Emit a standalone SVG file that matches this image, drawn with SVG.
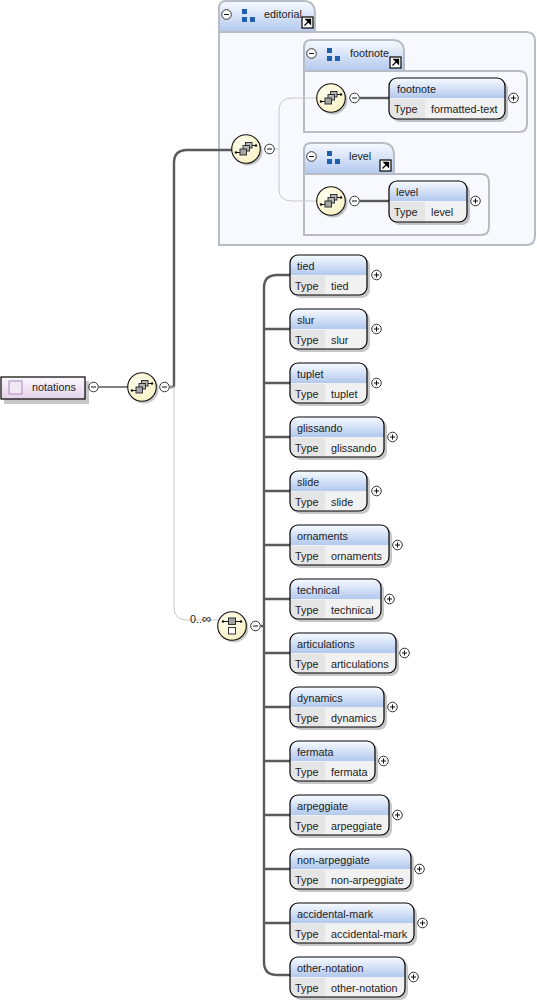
<svg xmlns="http://www.w3.org/2000/svg" xmlns:xlink="http://www.w3.org/1999/xlink" width="537" height="1003" viewBox="0 0 537 1003">
<style>
text{font-family:"Liberation Sans",Arial,sans-serif;font-size:10.8px;fill:#222}
.thick{fill:none;stroke:#5a5a5a;stroke-width:2.4}
.thin{fill:none;stroke:#c8c8c8;stroke-width:1}
.grp{fill:#f7f9fe;stroke:#b8bcc4;stroke-width:2}
.shadow{fill:#000;opacity:.22}
.box{fill:none;stroke:#000;stroke-width:1.2}
.lt{fill:#e5e5e5}.lv{fill:#f1f1f1}
</style>
<defs>
<linearGradient id="hd" x1="0" y1="0" x2="0" y2="1"><stop offset="0" stop-color="#f8fbff"/><stop offset="1" stop-color="#b2c8ee"/></linearGradient>
<linearGradient id="root" x1="0" y1="0" x2="0" y2="1"><stop offset="0" stop-color="#fbf8fd"/><stop offset="1" stop-color="#e3d2ea"/></linearGradient>
<radialGradient id="comp" cx=".4" cy=".35" r=".8"><stop offset="0" stop-color="#fffff2"/><stop offset="1" stop-color="#f6eebb"/></radialGradient>
<g id="minus"><circle r="4.8" fill="#fff" stroke="#333" stroke-width="1"/><path d="M-2.5 0H2.5" stroke="#111" stroke-width="1"/></g>
<g id="plus"><circle r="4.8" fill="#fff" stroke="#333" stroke-width="1"/><path d="M-2.5 0H2.5M0-2.5V2.5" stroke="#111" stroke-width="1"/></g>
<g id="seq">
<circle cx="2" cy="2" r="14.500" class="shadow"/>
<circle r="14.300" fill="url(#comp)" stroke="#111" stroke-width="1.100"/>
<path d="M-10 3.500H-6M5-3.500H10" stroke="#111" stroke-width="1.100"/>
<circle cx="-10" cy="3.500" r="1.200" fill="#111"/><circle cx="10" cy="-3.500" r="1.200" fill="#111"/>
<rect x="-0.500" y="-6.500" width="6.500" height="5.500" fill="#b5b5b5" stroke="#333" stroke-width="1"/>
<rect x="-3" y="-3.500" width="6.500" height="5.500" fill="#b5b5b5" stroke="#333" stroke-width="1"/>
<rect x="-6" y="0" width="6.500" height="6" fill="#a5a5a5" stroke="#333" stroke-width="1"/>
</g>
<g id="cho">
<circle cx="2" cy="2" r="14.500" class="shadow"/>
<circle r="14.300" fill="url(#comp)" stroke="#111" stroke-width="1.100"/>
<rect x="-3.500" y="-8" width="7" height="6.500" fill="#a5a5a5" stroke="#333" stroke-width="1"/>
<rect x="-3.500" y="1.500" width="7" height="6.500" fill="#fff" stroke="#333" stroke-width="1"/>
<path d="M-9-4.500H-3.500M3.500-4.500H9" stroke="#111" stroke-width="1"/>
<circle cx="-9" cy="-4.500" r="1.200" fill="#111"/><circle cx="9" cy="-4.500" r="1.200" fill="#111"/>
</g>
<g id="grpicon" fill="#1f5fae"><rect x="0" y="0" width="5" height="5"/><rect x="0" y="8" width="5" height="5"/><rect x="8" y="8" width="5" height="5"/></g>
<g id="link"><rect x="-5.500" y="-5.500" width="11" height="11" fill="#fff" stroke="#000" stroke-width="1.200"/><path d="M-3 3L2-2M-1.500-3H3V1.500Z" stroke="#000" stroke-width="1.300" fill="#000"/></g>
</defs>

<g id="editorial-group">
<path class="grp" d="M219 32H526Q535 32 535 41V236Q535 245 526 245H219Z"/>
<path d="M219 32V8Q219 1 226 1H304Q315 1 315 14V32Z" fill="url(#hd)" stroke="#b8bcc4" stroke-width="2"/>
<use href="#minus" x="226.500" y="14.500"/><use href="#grpicon" x="242" y="9"/>
<text x="264" y="18">editorial</text><use href="#link" x="307.500" y="22.500"/>
</g>
<g id="footnote-group">
<path class="grp" d="M304 71H519Q527 71 527 79V124Q527 132 519 132H304Z"/>
<path d="M304 71V47Q304 40 311 40H392Q404 40 404 52V71Z" fill="url(#hd)" stroke="#b8bcc4" stroke-width="2"/>
<use href="#minus" x="311.500" y="53.500"/><use href="#grpicon" x="327" y="48"/>
<text x="350" y="57">footnote</text><use href="#link" x="395.500" y="62.500"/>
</g>
<g id="level-group">
<path class="grp" d="M304 174H481Q489 174 489 182V227Q489 235 481 235H304Z"/>
<path d="M304 174V150Q304 143 311 143H382Q394 143 394 155V174Z" fill="url(#hd)" stroke="#b8bcc4" stroke-width="2"/>
<use href="#minus" x="311.500" y="156.500"/><use href="#grpicon" x="327" y="151"/>
<text x="349" y="160">level</text><use href="#link" x="385.500" y="165.500"/>
</g>

<g id="connectors">
<path class="thick" d="M99 387H128" style="stroke-width:1.500"/>
<path class="thick" d="M170 387H172Q174 387 174 385V163Q174 150 187 150H232"/>
<path class="thin" d="M170 387H174V607Q174 620 187 620H218"/>
<path class="thin" d="M275 149H279V111Q279 98 292 98H318"/>
<path class="thin" d="M279 149V189Q279 201 292 201H318"/>
<path class="thick" d="M360 98H389"/>
<path class="thick" d="M360 201H389"/>
<path class="thick" d="M261 626H264"/>
<path class="thick" d="M290 275H277Q264 275 264 288V962Q264 975 277 975H290"/>
<path class="thick" d="M264 329H290M264 383H290M264 437H290M264 491H290M264 545H290M264 599H290M264 653H290M264 707H290M264 761H290M264 815H290M264 869H290M264 923H290"/>
</g>

<g id="notations">
<rect x="4" y="381" width="85" height="23" class="shadow"/>
<rect x="1" y="377" width="84" height="22" fill="url(#root)" stroke="#000" stroke-width="1.200"/>
<rect x="9" y="381" width="13" height="13" fill="#f3e8f6" stroke="#a88ab8" stroke-width="1"/>
<text x="32" y="391">notations</text>
<use href="#minus" x="93.500" y="387"/>
</g>
<g id="seq-root"><use href="#seq" x="142" y="387"/><use href="#minus" x="164.500" y="387"/></g>
<g id="seq-editorial"><use href="#seq" x="246" y="149"/><use href="#minus" x="269.500" y="149"/></g>
<g id="seq-footnote"><use href="#seq" x="331" y="98"/><use href="#minus" x="354.500" y="98"/></g>
<g id="seq-level"><use href="#seq" x="331" y="201"/><use href="#minus" x="354.500" y="201"/></g>
<g id="cho-notations"><text x="190" y="623">0..<tspan font-size="13">∞</tspan></text><use href="#cho" x="232" y="626"/><use href="#minus" x="255.500" y="626"/></g>

<g id="footnote"><rect x="392" y="81" width="116" height="41" rx="8" class="shadow"/><rect x="389" y="78" width="116" height="41" rx="8" fill="#f1f1f1"/><path d="M389 98V86Q389 78 397 78H497Q505 78 505 86V98Z" fill="url(#hd)"/><path d="M389 99H425V119H397Q389 119 389 111Z" class="lt"/><rect x="389" y="78" width="116" height="41" rx="8" class="box"/><text x="397" y="93">footnote</text><text x="394" y="113">Type</text><text x="431" y="113">formatted-text</text><use href="#plus" x="513.500" y="98"/></g>
<g id="level"><rect x="392" y="184" width="78" height="41" rx="8" class="shadow"/><rect x="389" y="181" width="78" height="41" rx="8" fill="#f1f1f1"/><path d="M389 201V189Q389 181 397 181H459Q467 181 467 189V201Z" fill="url(#hd)"/><path d="M389 202H425V222H397Q389 222 389 214Z" class="lt"/><rect x="389" y="181" width="78" height="41" rx="8" class="box"/><text x="396" y="196">level</text><text x="394" y="216">Type</text><text x="431" y="216">level</text><use href="#plus" x="475.500" y="201"/></g>

<g id="tied"><rect x="293" y="258" width="77" height="40" rx="8" class="shadow"/><rect x="290" y="255" width="77" height="40" rx="8" fill="#f1f1f1"/><path d="M290 275V263Q290 255 298 255H359Q367 255 367 263V275Z" fill="url(#hd)"/><path d="M290 276H325V295H298Q290 295 290 287Z" class="lt"/><rect x="290" y="255" width="77" height="40" rx="8" class="box"/><text x="297" y="270">tied</text><text x="295" y="290">Type</text><text x="331" y="290">tied</text><use href="#plus" x="376.500" y="275"/></g>
<g id="slur"><rect x="293" y="312" width="77" height="40" rx="8" class="shadow"/><rect x="290" y="309" width="77" height="40" rx="8" fill="#f1f1f1"/><path d="M290 329V317Q290 309 298 309H359Q367 309 367 317V329Z" fill="url(#hd)"/><path d="M290 330H325V349H298Q290 349 290 341Z" class="lt"/><rect x="290" y="309" width="77" height="40" rx="8" class="box"/><text x="297" y="324">slur</text><text x="295" y="344">Type</text><text x="331" y="344">slur</text><use href="#plus" x="376.500" y="329"/></g>
<g id="tuplet"><rect x="293" y="366" width="77" height="40" rx="8" class="shadow"/><rect x="290" y="363" width="77" height="40" rx="8" fill="#f1f1f1"/><path d="M290 383V371Q290 363 298 363H359Q367 363 367 371V383Z" fill="url(#hd)"/><path d="M290 384H325V403H298Q290 403 290 395Z" class="lt"/><rect x="290" y="363" width="77" height="40" rx="8" class="box"/><text x="297" y="378">tuplet</text><text x="295" y="398">Type</text><text x="331" y="398">tuplet</text><use href="#plus" x="376.500" y="383"/></g>
<g id="glissando"><rect x="293" y="420" width="94" height="40" rx="8" class="shadow"/><rect x="290" y="417" width="94" height="40" rx="8" fill="#f1f1f1"/><path d="M290 437V425Q290 417 298 417H376Q384 417 384 425V437Z" fill="url(#hd)"/><path d="M290 438H325V457H298Q290 457 290 449Z" class="lt"/><rect x="290" y="417" width="94" height="40" rx="8" class="box"/><text x="297" y="432">glissando</text><text x="295" y="452">Type</text><text x="331" y="452">glissando</text><use href="#plus" x="392.500" y="437"/></g>
<g id="slide"><rect x="293" y="474" width="77" height="40" rx="8" class="shadow"/><rect x="290" y="471" width="77" height="40" rx="8" fill="#f1f1f1"/><path d="M290 491V479Q290 471 298 471H359Q367 471 367 479V491Z" fill="url(#hd)"/><path d="M290 492H325V511H298Q290 511 290 503Z" class="lt"/><rect x="290" y="471" width="77" height="40" rx="8" class="box"/><text x="297" y="486">slide</text><text x="295" y="506">Type</text><text x="331" y="506">slide</text><use href="#plus" x="376.500" y="491"/></g>
<g id="ornaments"><rect x="293" y="528" width="99" height="40" rx="8" class="shadow"/><rect x="290" y="525" width="99" height="40" rx="8" fill="#f1f1f1"/><path d="M290 545V533Q290 525 298 525H381Q389 525 389 533V545Z" fill="url(#hd)"/><path d="M290 546H325V565H298Q290 565 290 557Z" class="lt"/><rect x="290" y="525" width="99" height="40" rx="8" class="box"/><text x="297" y="540">ornaments</text><text x="295" y="560">Type</text><text x="331" y="560">ornaments</text><use href="#plus" x="397.500" y="545"/></g>
<g id="technical"><rect x="293" y="582" width="91" height="40" rx="8" class="shadow"/><rect x="290" y="579" width="91" height="40" rx="8" fill="#f1f1f1"/><path d="M290 599V587Q290 579 298 579H373Q381 579 381 587V599Z" fill="url(#hd)"/><path d="M290 600H325V619H298Q290 619 290 611Z" class="lt"/><rect x="290" y="579" width="91" height="40" rx="8" class="box"/><text x="297" y="594">technical</text><text x="295" y="614">Type</text><text x="331" y="614">technical</text><use href="#plus" x="389.500" y="599"/></g>
<g id="articulations"><rect x="293" y="636" width="106" height="40" rx="8" class="shadow"/><rect x="290" y="633" width="106" height="40" rx="8" fill="#f1f1f1"/><path d="M290 653V641Q290 633 298 633H388Q396 633 396 641V653Z" fill="url(#hd)"/><path d="M290 654H325V673H298Q290 673 290 665Z" class="lt"/><rect x="290" y="633" width="106" height="40" rx="8" class="box"/><text x="297" y="648">articulations</text><text x="295" y="668">Type</text><text x="331" y="668">articulations</text><use href="#plus" x="404.500" y="653"/></g>
<g id="dynamics"><rect x="293" y="690" width="94" height="40" rx="8" class="shadow"/><rect x="290" y="687" width="94" height="40" rx="8" fill="#f1f1f1"/><path d="M290 707V695Q290 687 298 687H376Q384 687 384 695V707Z" fill="url(#hd)"/><path d="M290 708H325V727H298Q290 727 290 719Z" class="lt"/><rect x="290" y="687" width="94" height="40" rx="8" class="box"/><text x="297" y="702">dynamics</text><text x="295" y="722">Type</text><text x="331" y="722">dynamics</text><use href="#plus" x="392.500" y="707"/></g>
<g id="fermata"><rect x="293" y="744" width="85" height="40" rx="8" class="shadow"/><rect x="290" y="741" width="85" height="40" rx="8" fill="#f1f1f1"/><path d="M290 761V749Q290 741 298 741H367Q375 741 375 749V761Z" fill="url(#hd)"/><path d="M290 762H325V781H298Q290 781 290 773Z" class="lt"/><rect x="290" y="741" width="85" height="40" rx="8" class="box"/><text x="297" y="756">fermata</text><text x="295" y="776">Type</text><text x="331" y="776">fermata</text><use href="#plus" x="383.500" y="761"/></g>
<g id="arpeggiate"><rect x="293" y="798" width="99" height="40" rx="8" class="shadow"/><rect x="290" y="795" width="99" height="40" rx="8" fill="#f1f1f1"/><path d="M290 815V803Q290 795 298 795H381Q389 795 389 803V815Z" fill="url(#hd)"/><path d="M290 816H325V835H298Q290 835 290 827Z" class="lt"/><rect x="290" y="795" width="99" height="40" rx="8" class="box"/><text x="297" y="810">arpeggiate</text><text x="295" y="830">Type</text><text x="331" y="830">arpeggiate</text><use href="#plus" x="397.500" y="815"/></g>
<g id="non-arpeggiate"><rect x="293" y="852" width="121" height="40" rx="8" class="shadow"/><rect x="290" y="849" width="121" height="40" rx="8" fill="#f1f1f1"/><path d="M290 869V857Q290 849 298 849H403Q411 849 411 857V869Z" fill="url(#hd)"/><path d="M290 870H325V889H298Q290 889 290 881Z" class="lt"/><rect x="290" y="849" width="121" height="40" rx="8" class="box"/><text x="297" y="864">non-arpeggiate</text><text x="295" y="884">Type</text><text x="331" y="884">non-arpeggiate</text><use href="#plus" x="419.500" y="869"/></g>
<g id="accidental-mark"><rect x="293" y="906" width="124" height="40" rx="8" class="shadow"/><rect x="290" y="903" width="124" height="40" rx="8" fill="#f1f1f1"/><path d="M290 923V911Q290 903 298 903H406Q414 903 414 911V923Z" fill="url(#hd)"/><path d="M290 924H325V943H298Q290 943 290 935Z" class="lt"/><rect x="290" y="903" width="124" height="40" rx="8" class="box"/><text x="297" y="918">accidental-mark</text><text x="295" y="938">Type</text><text x="331" y="938">accidental-mark</text><use href="#plus" x="422.500" y="923"/></g>
<g id="other-notation"><rect x="293" y="960" width="115" height="40" rx="8" class="shadow"/><rect x="290" y="957" width="115" height="40" rx="8" fill="#f1f1f1"/><path d="M290 977V965Q290 957 298 957H397Q405 957 405 965V977Z" fill="url(#hd)"/><path d="M290 978H325V997H298Q290 997 290 989Z" class="lt"/><rect x="290" y="957" width="115" height="40" rx="8" class="box"/><text x="297" y="972">other-notation</text><text x="295" y="992">Type</text><text x="331" y="992">other-notation</text><use href="#plus" x="413.500" y="977"/></g>
</svg>
